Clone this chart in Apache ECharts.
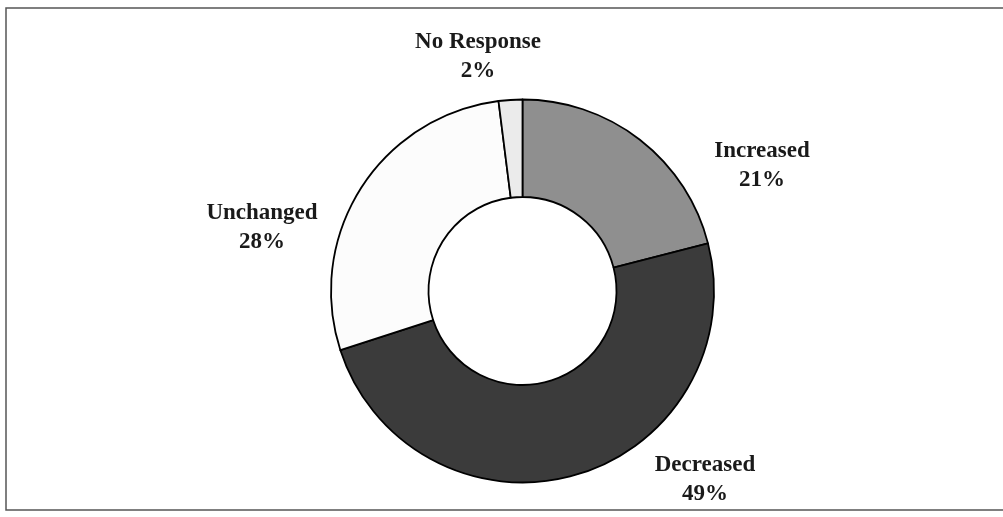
<!DOCTYPE html>
<html>
<head>
<meta charset="utf-8">
<script src="https://cdn.jsdelivr.net/npm/echarts@6/dist/echarts.min.js"></script>
<style>
  html, body { margin: 0; padding: 0; background: #ffffff; }
  #chart { width: 1003px; height: 517px; }
</style>
</head>
<body>
<div id="chart"></div>
<script>
// Survey responses, clockwise from 12 o'clock
const categories = ['Increased', 'Decreased', 'Unchanged', 'No Response'];
const percents = [21, 49, 28, 2];

// Slice fills and label anchor points (px)
const sliceColors = ['#8f8f8f', '#3b3b3b', '#fcfcfc', '#ebebeb'];
const labelAnchors = [[762, 166], [705, 480], [262, 228], [478, 57]];

const chart = echarts.init(document.getElementById('chart'));

chart.setOption({
  backgroundColor: '#ffffff',
  animation: false,
  graphic: [{
    type: 'rect',
    shape: { x: 6, y: 8, width: 1010, height: 502 },
    style: { fill: 'none', stroke: '#555555', lineWidth: 1.5 },
    silent: true
  }],
  series: [{
    type: 'pie',
    center: [522.5, 291],
    radius: [94, 191.5],
    startAngle: 90,
    clockwise: true,
    avoidLabelOverlap: false,
    itemStyle: { borderColor: '#000000', borderWidth: 1.8 },
    label: {
      show: true,
      position: 'outside',
      formatter: p => p.name + '\n' + p.value + '%',
      fontFamily: '"Liberation Serif", "DejaVu Serif", serif',
      fontWeight: 'bold',
      fontSize: 23,
      lineHeight: 29,
      color: '#1a1a1a',
      align: 'center'
    },
    labelLine: { show: false },
    labelLayout: params => {
      const a = labelAnchors[params.dataIndex];
      return { x: a[0], y: a[1], align: 'center', verticalAlign: 'middle' };
    },
    emphasis: { disabled: true },
    data: categories.map((name, i) => ({
      name: name,
      value: percents[i],
      itemStyle: { color: sliceColors[i] }
    }))
  }]
});
</script>
</body>
</html>
